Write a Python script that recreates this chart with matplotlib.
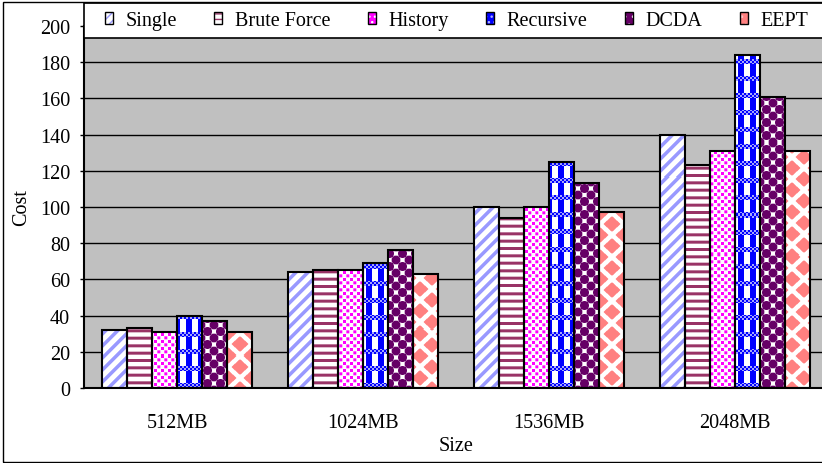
import numpy as np
import matplotlib
matplotlib.use("Agg")
import matplotlib.pyplot as plt
from matplotlib.colors import to_rgb
from matplotlib.patches import Rectangle, Patch
from matplotlib.legend_handler import HandlerTuple

# ---- data -------------------------------------------------------------
sizes = ["512MB", "1024MB", "1536MB", "2048MB"]
series = ["Single", "Brute Force", "History", "Recursive", "DCDA", "EEPT"]
single = [32, 64, 100, 140]
brute_force = [33, 65, 94, 123]
history = [31, 65, 100, 131]
recursive = [40, 69, 125, 184]
dcda = [37, 76, 113, 161]
eept = [31, 63, 97, 131]
y_ticks = list(range(0, 201, 20))

values = [single, brute_force, history, recursive, dcda, eept]

# ---- figure geometry (pixels) -----------------------------------------
W, H, DPI = 822, 464, 100
AX_L, AX_R, AX_T, AX_B = 84, 828, 27, 389
FS = 14.5
SERIF = ["Liberation Serif", "DejaVu Serif"]
plt.rcParams["font.family"] = SERIF

fig = plt.figure(figsize=(W / DPI, H / DPI), dpi=DPI)
ax = fig.add_axes([AX_L / W, 1 - AX_B / H, (AX_R - AX_L) / W, (AX_B - AX_T) / H])
ax.set_facecolor("#C0C0C0")

# ---- pattern fills -----------------------------------------------------
SS = 3
nx, ny = int(round(AX_R - AX_L)), int(round(AX_B - AX_T))
gx = (np.arange(nx * SS) + 0.5) / SS
gy = (np.arange(ny * SS) + 0.5) / SS
X, Y = np.meshgrid(gx, gy)


def wrapdist(v, p):
    v = v % p
    return np.minimum(v, p - v)


def diag_stripes(X, Y):
    return ((X + Y) % 12) < 5


def h_stripes(X, Y):
    return (Y % 7.4) < 3


def dots(X, Y):
    a = ((X % 7) < 2.9) & ((Y % 7) < 2.9)
    b = (((X + 3.5) % 7) < 2.9) & (((Y + 3.5) % 7) < 2.9)
    return a | b


def weave(X, Y):
    band = (Y % 17) < 5
    checker = (((np.floor(X) // 2) + (np.floor(Y) // 2)) % 2) == 0
    cols = (X % 12) >= 6
    return np.where(band, np.where(checker, 1.0, 0.35), cols.astype(float))


def bubbles(X, Y):
    P = 13.0
    d1 = np.hypot(wrapdist(X, P), wrapdist(Y, P))
    d2 = np.hypot(wrapdist(X - P / 2, P), wrapdist(Y - P / 2, P))
    return np.minimum(d1, d2) < 4.5


def diamonds(X, Y):
    a, b = 24.0, 22.0
    d1 = wrapdist(X, a) / (a / 2) + wrapdist(Y, b) / (b / 2)
    d2 = wrapdist(X - a / 2, a) / (a / 2) + wrapdist(Y - b / 2, b) / (b / 2)
    return np.minimum(d1, d2) < 0.72


def texture(fn, color):
    m = np.asarray(fn(X, Y), dtype=float)
    m = m.reshape(ny, SS, nx, SS).mean(axis=(1, 3))
    rgb = np.array(to_rgb(color))
    img = 1 - m[..., None] * (1 - rgb)
    return np.clip(np.round(img * 255), 0, 255).astype(np.uint8)


styles = [
    (diag_stripes, "#9999FF"),
    (h_stripes, "#993366"),
    (dots, "#FF00FF"),
    (weave, "#0000FF"),
    (bubbles, "#660066"),
    (diamonds, "#FF8080"),
]

# ---- bars ----------------------------------------------------------------
x = np.arange(len(sizes))
bw = 0.1344
xlim = (-0.5, len(sizes) - 0.5)
ylim = (0, 200)

for k, (vals, (fn, col)) in enumerate(zip(values, styles)):
    img = texture(fn, col)
    bars = ax.bar(x + (k - 2.5) * bw, vals, bw, facecolor="none",
                  edgecolor="black", linewidth=1.5, zorder=3)
    for b in bars:
        im = ax.imshow(img, extent=(xlim[0], xlim[1], ylim[0], ylim[1]),
                       origin="upper", aspect="auto",
                       interpolation="nearest", zorder=2)
        im.set_clip_path(b)

ax.set_xlim(*xlim)
ax.set_ylim(*ylim)

# ---- axes styling ----------------------------------------------------------
ax.set_axisbelow(True)
ax.yaxis.grid(True, color="black", linewidth=1.0)
ax.set_yticks(y_ticks)
ax.set_xticks(x)
ax.set_xticklabels(sizes)
ax.tick_params(axis="y", length=3, width=1, pad=7, labelsize=FS)
ax.tick_params(axis="x", length=0, pad=18, labelsize=FS)
for s in ["left", "bottom"]:
    ax.spines[s].set_linewidth(1.5)
for s in ["top", "right"]:
    ax.spines[s].set_linewidth(1.0)

ax.set_xlabel("Size", fontsize=FS, va="baseline")
ax.xaxis.set_label_coords(0.5, -(451 - AX_B) / (AX_B - AX_T))
ax.set_ylabel("Cost", fontsize=FS, va="center")
ax.yaxis.set_label_coords((22 - AX_L) / (AX_R - AX_L), 0.5)

# ---- legend ------------------------------------------------------------------
key_styles = [
    dict(facecolor="white", edgecolor="#9999FF", hatch="////"),
    dict(facecolor="white", edgecolor="#993366", hatch="---"),
    dict(facecolor="#FF00FF", edgecolor="white", hatch="..."),
    dict(facecolor="#0000FF", edgecolor="#AAAAFF", hatch="..."),
    dict(facecolor="#660066", edgecolor="white", hatch=".."),
    dict(facecolor="#FF8080", edgecolor="#FFC0C0", hatch=".."),
]
handles = [(Patch(linewidth=0, **ks),
            Patch(facecolor="none", edgecolor="black", linewidth=1.0))
           for ks in key_styles]

fig.add_artist(Rectangle((AX_L / W, 1 - 39 / H), (W + 20 - AX_L) / W, 35 / H,
                         transform=fig.transFigure, facecolor="white",
                         edgecolor="black", linewidth=1.2, zorder=4))
fpx = FS * DPI / 72
fig.legend(handles, series, loc="center left",
           bbox_to_anchor=(104.5 / W, 1 - 21.5 / H), ncol=6, frameon=False,
           borderpad=0, borderaxespad=0, prop={"family": SERIF, "size": FS},
           handlelength=8 / fpx, handleheight=10 / fpx,
           handletextpad=13 / fpx, columnspacing=37 / fpx,
           handler_map={tuple: HandlerTuple(ndivide=1, pad=0)})

# outer frame
fig.add_artist(Rectangle((3 / W, 1 / H), (W + 20) / W, (H - 4) / H,
                         transform=fig.transFigure, fill=False,
                         edgecolor="black", linewidth=1.0, zorder=6))

fig.savefig("out.png", dpi=DPI)
